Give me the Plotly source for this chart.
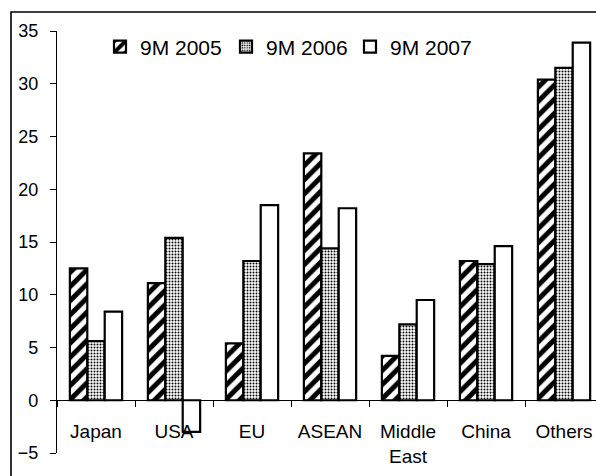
import plotly.graph_objects as go

# Regions and growth figures (%) for three nine-month periods
regions = ["Japan", "USA", "EU", "ASEAN", "Middle<br>East", "China", "Others"]
series_names = ["9M 2005", "9M 2006", "9M 2007"]
v2005 = [12.5, 11.1, 5.4, 23.4, 4.2, 13.2, 30.4]
v2006 = [5.6, 15.4, 13.2, 14.4, 7.2, 12.9, 31.5]
v2007 = [8.4, -3.0, 18.5, 18.2, 9.5, 14.6, 33.9]
y_ticks = [-5, 0, 5, 10, 15, 20, 25, 30, 35]

FONT = "Liberation Sans, Arial, sans-serif"
W, H = 596, 476
L, R, T, B = 57, 0, 31, 23
plot_w = W - L - R

patterns = [
    dict(shape="/", fgcolor="black", bgcolor="white", size=10, solidity=0.5, fgopacity=1),
    dict(shape=".", fgcolor="black", bgcolor="white", size=3, solidity=0.35, fgopacity=1),
    dict(shape="", bgcolor="white"),
]
values = [v2005, v2006, v2007]
legend_ids = ["legend", "legend2", "legend3"]

fig = go.Figure()
for name, vals, pat, lg in zip(series_names, values, patterns, legend_ids):
    fig.add_trace(go.Bar(
        x=regions, y=vals, name=name, legend=lg,
        marker=dict(color="white", pattern=pat,
                    line=dict(color="black", width=2.2)),
    ))

def px_to_paper_x(px):
    return (px - L) / plot_w

legend_common = dict(
    orientation="h", yanchor="middle", xanchor="left",
    font=dict(family=FONT, size=21, color="black"),
    bgcolor="rgba(0,0,0,0)", borderwidth=0, itemwidth=30,
)
sym_centers = [120, 246, 370]
legend_y = (H - B - 47) / (H - T - B)

layout_legends = {}
for lg, sc in zip(legend_ids, sym_centers):
    layout_legends[lg] = dict(legend_common, x=px_to_paper_x(sc - 20), y=legend_y)

fig.update_layout(
    width=W, height=H,
    margin=dict(l=L, r=R, t=T, b=B),
    paper_bgcolor="white", plot_bgcolor="white",
    barmode="group", bargap=0.33, bargroupgap=0,
    font=dict(family=FONT, size=18, color="black"),
    showlegend=True,
    **layout_legends,
    xaxis=dict(
        range=[-0.5, 6.41], anchor="free", position=5 / 40,
        showline=True, linecolor="black", linewidth=1.3,
        ticks="outside", tickson="boundaries", ticklen=6,
        tickcolor="black", tickwidth=1.3,
        showgrid=False, zeroline=False,
        tickfont=dict(family=FONT, size=19, color="black"),
        ticklabelstandoff=14,
    ),
    yaxis=dict(
        range=[-5, 35], tickvals=y_ticks,
        showline=True, linecolor="black", linewidth=1.3,
        ticks="outside", ticklen=6, tickcolor="black", tickwidth=1.3,
        showgrid=False, zeroline=False,
        tickfont=dict(family=FONT, size=18, color="black"),
        ticklabelstandoff=8,
    ),
)

# Outer frame around the chart
fig.add_shape(
    type="rect", xref="paper", yref="paper",
    x0=px_to_paper_x(11), x1=1.3,
    y0=-0.3, y1=(H - B - 12) / (H - T - B),
    line=dict(color="black", width=1.6), fillcolor="rgba(0,0,0,0)",
    layer="below",
)

fig.write_html("out.html")
